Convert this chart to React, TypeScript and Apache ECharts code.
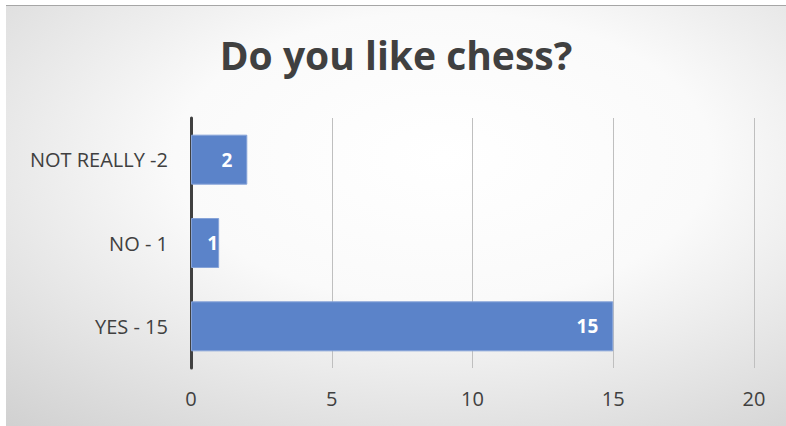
import React, { useEffect, useRef } from "react";
import * as echarts from "echarts";

const categories = ["YES - 15", "NO - 1", "NOT REALLY -2"];
const values = [15, 1, 2];
const xTicks = { min: 0, max: 20, interval: 5 };
const titleText = "Do you like chess?";

export default function App() {
  const ref = useRef<HTMLDivElement>(null);
  useEffect(() => {
    document.body.style.margin = "0";
    const chart = echarts.init(ref.current!, null, { renderer: "svg" });
    const data = values.map((v) =>
      v === 1
        ? { value: v, label: { position: "insideRight", distance: 1 } }
        : { value: v }
    );
    chart.setOption({
      animation: false,
      backgroundColor: {
        type: "radial",
        x: 0.56,
        y: 0.36,
        r: 1.15,
        colorStops: [
          { offset: 0, color: "#ffffff" },
          { offset: 0.3, color: "#fafafa" },
          { offset: 1, color: "#b8b8b8" },
        ],
      },
      title: {
        text: titleText,
        left: "center",
        top: 24,
        textStyle: {
          fontFamily: "Open Sans",
          fontWeight: "bold",
          fontSize: 39,
          color: "#404040",
        },
      },
      grid: { left: 185, right: 32, top: 112, bottom: 58, containLabel: false },
      xAxis: {
        type: "value",
        min: xTicks.min,
        max: xTicks.max,
        interval: xTicks.interval,
        axisLine: { show: false },
        axisTick: { show: false },
        splitLine: { show: true, lineStyle: { color: "#bfbfbf", width: 1 } },
        axisLabel: {
          margin: 20,
          fontFamily: "Open Sans",
          fontSize: 20,
          color: "#404040",
        },
      },
      yAxis: {
        type: "category",
        data: categories,
        axisLine: { show: true, lineStyle: { color: "#404040", width: 3 } },
        axisTick: { show: false },
        axisLabel: {
          margin: 23,
          fontFamily: "Open Sans",
          fontSize: 20,
          color: "#404040",
        },
      },
      series: [
        {
          type: "bar",
          data,
          barCategoryGap: "40%",
          itemStyle: { color: "#5b83c9", borderColor: "#86a3d8", borderWidth: 1 },
          label: {
            show: true,
            position: "insideRight",
            distance: 15,
            fontFamily: "Open Sans",
            fontWeight: "bold",
            fontSize: 19,
            color: "#ffffff",
          },
        },
      ],
    });
    return () => chart.dispose();
  }, []);
  return (
    <div style={{ position: "absolute", left: 0, top: 0, width: 786, height: 426, background: "#ffffff" }}>
      <div
        ref={ref}
        style={{
          position: "absolute",
          left: 6,
          top: 5,
          width: 780,
          height: 421,
          borderTop: "1px solid #a6a6a6",
          boxSizing: "border-box",
        }}
      />
    </div>
  );
}
